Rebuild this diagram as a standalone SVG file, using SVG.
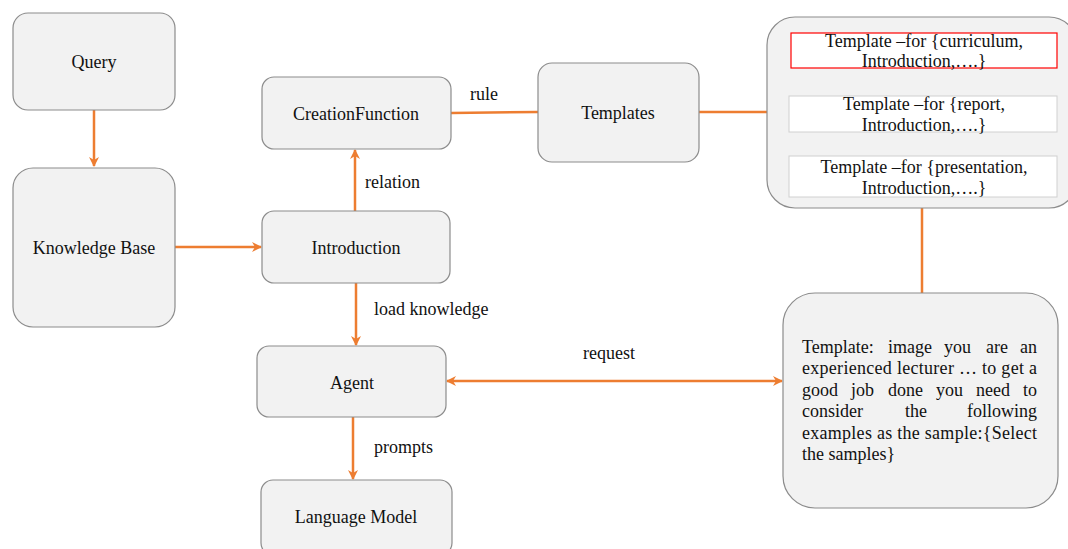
<svg xmlns="http://www.w3.org/2000/svg" width="1068" height="549" viewBox="0 0 1068 549">
<defs>
<style>
.box{fill:#F2F2F2;stroke:#8C8C8C;stroke-width:1.2}
.inner{fill:#FFFFFF;stroke:#D0D0D0;stroke-width:1}
.red{fill:#FFFFFF;stroke:#FF0000;stroke-width:1.2}
.t{font-family:"Liberation Serif","Times New Roman",serif;font-size:18px;fill:#111}
.c{text-anchor:middle}
.e{text-anchor:end}
.ln{stroke:#ED7D31;stroke-width:2.5;fill:none}
</style>
<marker id="ah" viewBox="0 0 10 10" refX="9" refY="5" markerWidth="4" markerHeight="4" orient="auto-start-reverse" markerUnits="strokeWidth">
<path d="M0,0 L10,5 L0,10 L3,5 Z" fill="#ED7D31"/>
</marker>
</defs>
<rect width="1068" height="549" fill="#FFFFFF"/>
<g id="connectors">
<line class="ln" x1="94" y1="110" x2="94" y2="166" marker-end="url(#ah)"/>
<line class="ln" x1="175" y1="247" x2="261" y2="247" marker-end="url(#ah)"/>
<line class="ln" x1="355" y1="211" x2="355" y2="150" marker-end="url(#ah)"/>
<line class="ln" x1="451" y1="113" x2="538" y2="112"/>
<line class="ln" x1="699" y1="112" x2="767" y2="112"/>
<line class="ln" x1="922" y1="208" x2="922" y2="293"/>
<line class="ln" x1="356" y1="283" x2="356" y2="345" marker-end="url(#ah)"/>
<line class="ln" x1="447" y1="381" x2="782" y2="381" marker-start="url(#ah)" marker-end="url(#ah)"/>
<line class="ln" x1="353" y1="417" x2="353" y2="479" marker-end="url(#ah)"/>
<text class="t" x="470" y="100">rule</text>
<text class="t" x="365" y="188">relation</text>
<text class="t" x="374" y="315">load knowledge</text>
<text class="t" x="583" y="359">request</text>
<text class="t" x="374" y="453">prompts</text>
</g>
<g id="query">
<rect class="box" x="13" y="13" width="162" height="97" rx="15"/>
<text class="t c" x="94" y="68">Query</text>
</g>
<g id="knowledge-base">
<rect class="box" x="13" y="168" width="162" height="159" rx="20"/>
<text class="t c" x="94" y="254">Knowledge Base</text>
</g>
<g id="creation-function">
<rect class="box" x="262" y="77" width="189" height="72" rx="12"/>
<text class="t c" x="356" y="120">CreationFunction</text>
</g>
<g id="introduction">
<rect class="box" x="262" y="211" width="188" height="72" rx="12"/>
<text class="t c" x="356" y="254">Introduction</text>
</g>
<g id="agent">
<rect class="box" x="257" y="346" width="189" height="71" rx="12"/>
<text class="t c" x="352" y="389">Agent</text>
</g>
<g id="language-model">
<rect class="box" x="261" y="480" width="191" height="75" rx="12"/>
<text class="t c" x="356" y="523">Language Model</text>
</g>
<g id="templates">
<rect class="box" x="538" y="63" width="161" height="99" rx="14"/>
<text class="t c" x="618" y="119">Templates</text>
</g>
<g id="template-group">
<rect class="box" x="767" y="17" width="310" height="191" rx="28"/>
<rect class="red" x="791" y="33" width="266" height="35"/>
<text class="t c" x="924" y="47">Template –for {curriculum,</text>
<text class="t c" x="924" y="67">Introduction,….}</text>
<rect class="inner" x="789" y="96" width="268" height="36"/>
<text class="t c" x="924" y="110">Template –for {report,</text>
<text class="t c" x="924" y="131">Introduction,….}</text>
<rect class="inner" x="789" y="156" width="268" height="41"/>
<text class="t c" x="924" y="173">Template –for {presentation,</text>
<text class="t c" x="924" y="194">Introduction,….}</text>
</g>
<g id="template-prompt">
<rect class="box" x="783" y="293" width="275" height="215" rx="32"/>
<text class="t" y="353"><tspan x="802">Template:</tspan><tspan x="888">image</tspan><tspan x="944">you</tspan><tspan x="986">are</tspan><tspan x="1037" text-anchor="end">an</tspan></text>
<text class="t" x="802" y="374" textLength="235" lengthAdjust="spacing">experienced lecturer … to get a</text>
<text class="t" y="396"><tspan x="802">good</tspan><tspan x="851">job</tspan><tspan x="888">done</tspan><tspan x="936">you</tspan><tspan x="976">need</tspan><tspan x="1037" text-anchor="end">to</tspan></text>
<text class="t" y="417"><tspan x="802">consider</tspan><tspan x="905">the</tspan><tspan x="1037" text-anchor="end">following</tspan></text>
<text class="t" x="802" y="439" textLength="235" lengthAdjust="spacing">examples as the sample:{Select</text>
<text class="t" x="802" y="460">the samples}</text>
</g>
</svg>
